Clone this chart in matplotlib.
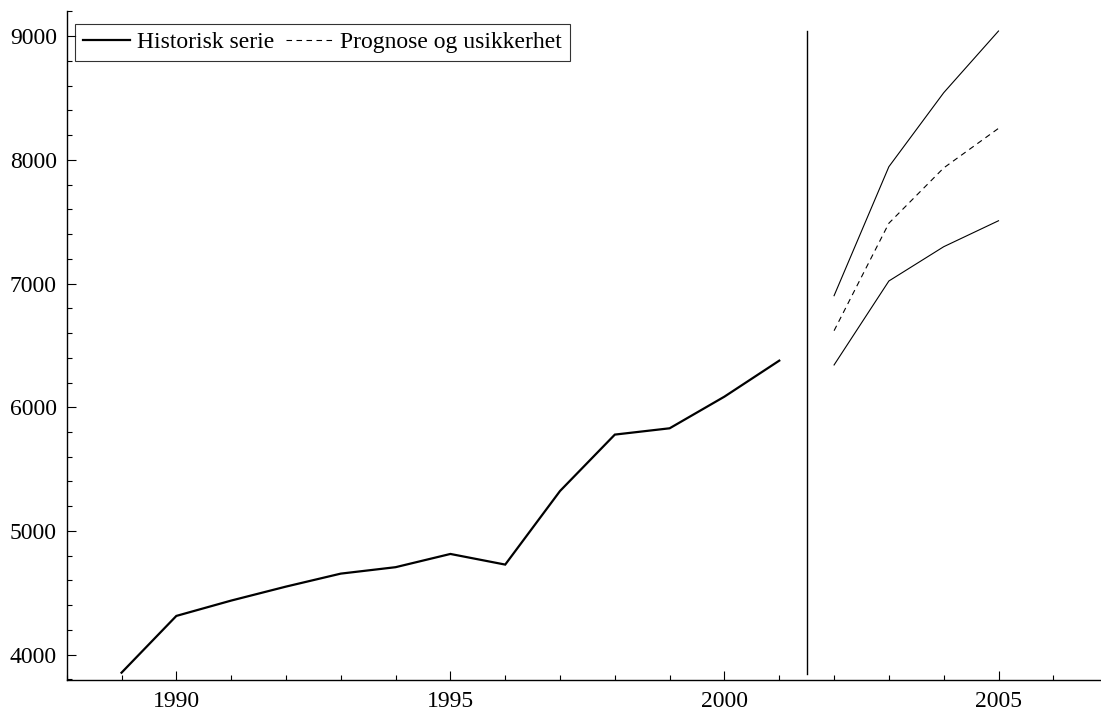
import matplotlib
matplotlib.use("Agg")
import matplotlib.pyplot as plt
from matplotlib.ticker import MultipleLocator

plt.rcParams['font.family'] = ['Liberation Serif', 'DejaVu Serif']

years_hist = [1989, 1990, 1991, 1992, 1993, 1994, 1995, 1996, 1997, 1998, 1999, 2000, 2001]
hist = [3854, 4313, 4437, 4550, 4655, 4707, 4814, 4728, 5323, 5779, 5830, 6086, 6377]

years_fc = [2002, 2003, 2004, 2005]
fc_mid = [6619, 7488, 7935, 8255]
fc_upper = [6902, 7945, 8543, 9042]
fc_lower = [6342, 7021, 7298, 7508]

split_year = 2001.5
split_range = [3844, 9042]

fig = plt.figure(figsize=(11.01, 7.13), dpi=100)
ax = fig.add_axes([0.0606, 0.0463, 0.9394, 0.9383])

ax.plot(years_hist, hist, color='black', lw=1.6, label='Historisk serie', solid_joinstyle='miter')
ax.plot(years_fc, fc_mid, color='black', lw=0.8, dashes=(5, 4), label='Prognose og usikkerhet')
ax.plot(years_fc, fc_upper, color='black', lw=0.8)
ax.plot(years_fc, fc_lower, color='black', lw=0.8)
ax.plot([split_year, split_year], split_range, color='black', lw=1.0)

ax.set_xlim(1988.0, 2006.87)
ax.set_ylim(3795, 9204)

ax.xaxis.set_major_locator(MultipleLocator(5))
ax.xaxis.set_minor_locator(MultipleLocator(1))
ax.yaxis.set_major_locator(MultipleLocator(1000))
ax.yaxis.set_minor_locator(MultipleLocator(200))

for s in ['top', 'right']:
    ax.spines[s].set_visible(False)
for s in ['left', 'bottom']:
    ax.spines[s].set_linewidth(1.0)

ax.tick_params(which='major', direction='in', length=6.5, width=0.8, labelsize=17)
ax.tick_params(axis='x', which='major', pad=8)
ax.tick_params(axis='y', which='major', pad=7)
ax.tick_params(which='minor', direction='in', length=3.5, width=0.8)

leg = ax.legend(loc='upper left', bbox_to_anchor=(0.008, 0.98), ncol=2, frameon=True,
                fancybox=False, edgecolor='black', fontsize=17, handlelength=2.0,
                columnspacing=0.5, handletextpad=0.3, borderpad=0.32, borderaxespad=0)
leg.get_frame().set_linewidth(0.8)

fig.savefig('out.png', dpi=100)
